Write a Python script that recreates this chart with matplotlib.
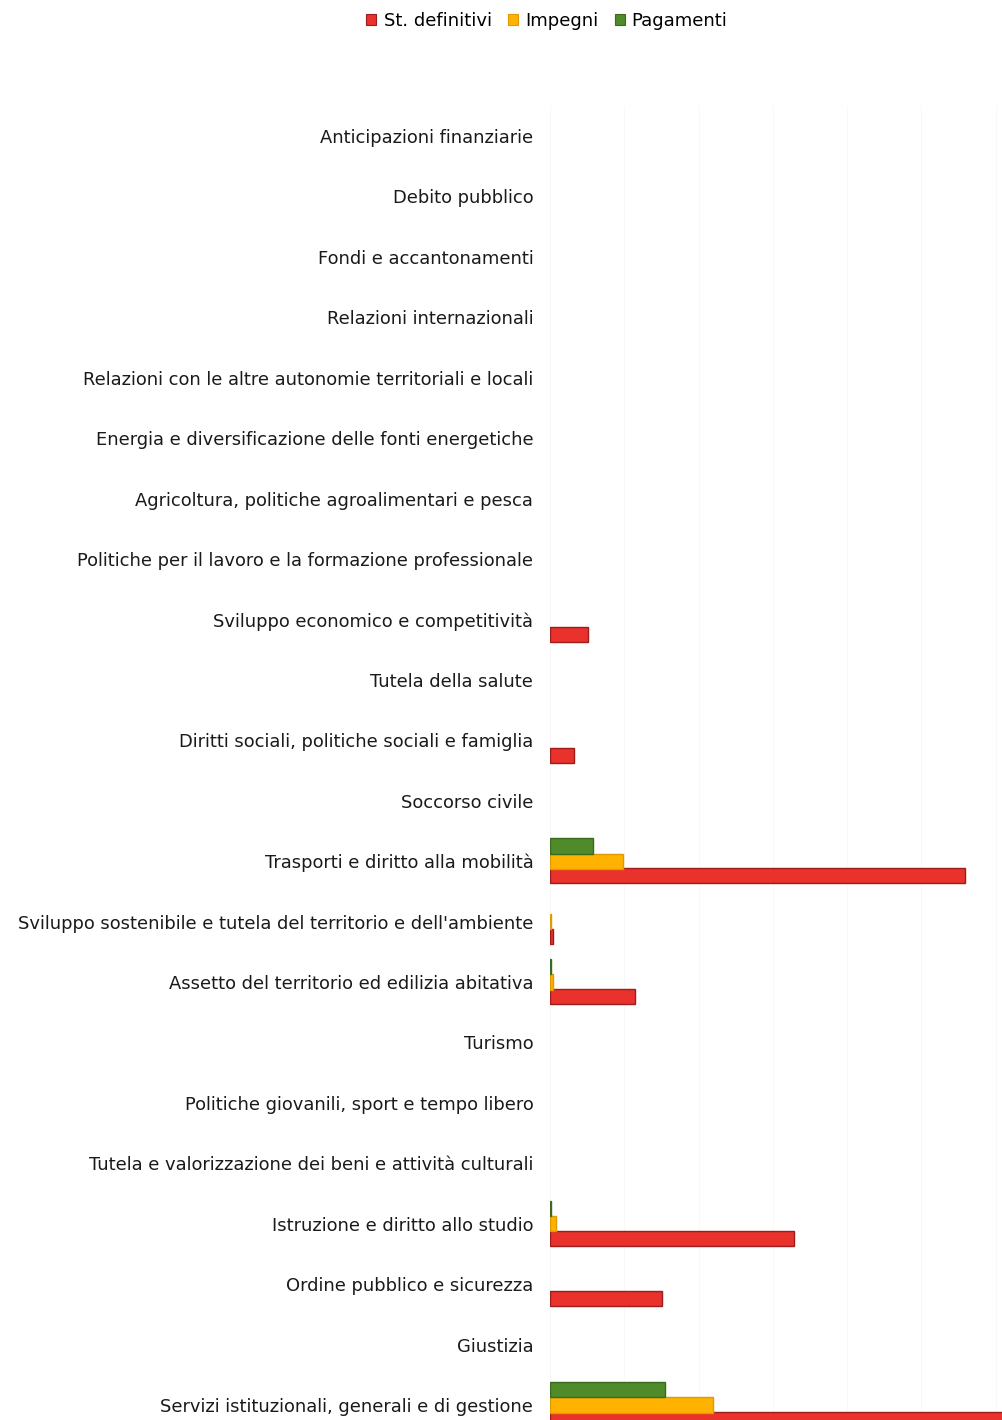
import matplotlib
matplotlib.use("Agg")
import matplotlib.pyplot as plt
import numpy as np

plt.rcParams['font.family'] = ['DejaVu Sans']

# Missioni di spesa (dall'alto verso il basso)
categories = [
    "Anticipazioni finanziarie",
    "Debito pubblico",
    "Fondi e accantonamenti",
    "Relazioni internazionali",
    "Relazioni con le altre autonomie territoriali e locali",
    "Energia e diversificazione delle fonti energetiche",
    "Agricoltura, politiche agroalimentari e pesca",
    "Politiche per il lavoro e la formazione professionale",
    "Sviluppo economico e competitività",
    "Tutela della salute",
    "Diritti sociali, politiche sociali e famiglia",
    "Soccorso civile",
    "Trasporti e diritto alla mobilità",
    "Sviluppo sostenibile e tutela del territorio e dell'ambiente",
    "Assetto del territorio ed edilizia abitativa",
    "Turismo",
    "Politiche giovanili, sport e tempo libero",
    "Tutela e valorizzazione dei beni e attività culturali",
    "Istruzione e diritto allo studio",
    "Ordine pubblico e sicurezza",
    "Giustizia",
    "Servizi istituzionali, generali e di gestione",
]

# Importi in milioni di euro
st_definitivi = [0, 0, 0, 0, 0, 0, 0, 0, 0.51, 0, 0.32, 0, 5.59, 0.04, 1.15,
                 0, 0, 0, 3.29, 1.51, 0, 7.00]
impegni = [0, 0, 0, 0, 0, 0, 0, 0, 0, 0, 0, 0, 0.98, 0.02, 0.04,
           0, 0, 0, 0.08, 0, 0, 2.19]
pagamenti = [0, 0, 0, 0, 0, 0, 0, 0, 0, 0, 0, 0, 0.58, 0, 0.01,
             0, 0, 0, 0.01, 0, 0, 1.55]

series_names = ["St. definitivi", "Impegni", "Pagamenti"]
face_colors = ["#e8322b", "#ffb300", "#4f8b2b"]
edge_colors = ["#9e1c1c", "#e09a00", "#3a6a1e"]

W, H = 1003, 1420
fig = plt.figure(figsize=(W / 100, H / 100), dpi=100)
fig.patch.set_facecolor("white")

n = len(categories)
ypos = np.arange(n)[::-1]  # first category at the top

# axes extend slightly past the bottom and right edges of the figure
left_px, right_px = 550, 1003
top_px, bot_px = 136 - 30.2, 1405 + 30.2
ax = fig.add_axes([left_px / W, (H - bot_px) / H,
                   (right_px - left_px) / W, (bot_px - top_px) / H])

h = 0.25
offsets = [-0.245, 0.0, 0.25]
for vals, off, fc, ec, name in zip([st_definitivi, impegni, pagamenti], offsets,
                                   face_colors, edge_colors, series_names):
    v = np.array(vals, dtype=float)
    mask = v > 0
    ax.barh(ypos[mask] + off, v[mask], height=h, color=fc, edgecolor=ec,
            linewidth=1.0, label=name, zorder=3)

unit_px = 74.3
ax.set_xlim(0, (right_px - left_px) / unit_px)
ax.set_ylim(-0.5, n - 0.5)
ax.set_yticks(ypos)
ax.set_yticklabels(categories, fontsize=12.9, color="#1a1a1a")
ax.tick_params(axis="y", length=0, pad=12)
ax.set_xticks(np.arange(0, 7))
ax.tick_params(axis="x", length=0, labelbottom=False)
ax.grid(axis="x", color="#f7f7f7", linewidth=0.6, zorder=0)
for s in ax.spines.values():
    s.set_visible(False)

handles = [plt.Rectangle((0, 0), 1, 1, facecolor=fc, edgecolor=ec, linewidth=0.8)
           for fc, ec in zip(face_colors, edge_colors)]
fig.legend(handles, series_names, loc="center", bbox_to_anchor=(547 / W, 1 - 21 / H),
           ncol=3, frameon=False, fontsize=13, handlelength=0.55, handleheight=0.55,
           handletextpad=0.4, columnspacing=0.9)

fig.savefig("out.png", dpi=100, facecolor="white")
